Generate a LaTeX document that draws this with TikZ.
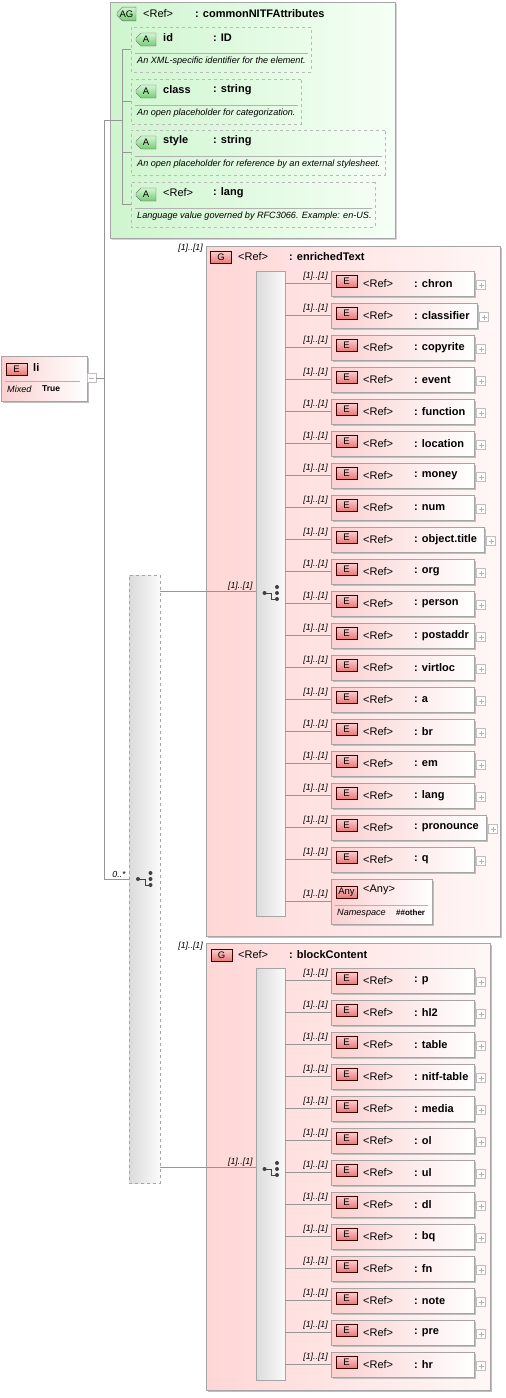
\documentclass[tikz,border=0pt]{standalone}
\usepackage{fontspec}
\setmainfont{Liberation Sans}
\usetikzlibrary{positioning,shapes.misc,shadows}

\definecolor{grpL}{RGB}{255,214,214}
\definecolor{grpR}{RGB}{255,247,247}
\definecolor{elL}{RGB}{251,208,208}
\definecolor{agL}{RGB}{206,245,206}
\definecolor{agR}{RGB}{246,255,246}
\definecolor{icoRt}{RGB}{250,205,205}
\definecolor{icoRb}{RGB}{232,118,118}
\definecolor{icoGt}{RGB}{210,246,210}
\definecolor{icoGb}{RGB}{118,204,118}
\definecolor{linegray}{RGB}{150,150,150}
\definecolor{boxgray}{RGB}{165,165,165}

\tikzset{
  shade box/.style={drop shadow={shadow xshift=1.5pt,shadow yshift=-1.5pt,fill=black!25,opacity=1}},
  conn/.style={draw=linegray, line width=0.6pt},
  sepline/.style={draw=gray!60, line width=0.6pt},
  elbox/.style={rectangle, draw=boxgray, left color=elL, right color=white,
    minimum height=25pt, inner sep=0pt, anchor=west, shade box},
  grpbox/.style={rectangle, draw=boxgray, left color=grpL, right color=grpR,
    inner sep=0pt, anchor=north west, shade box},
  agbox/.style={chamfered rectangle, chamfered rectangle corners={north west,south west},
    chamfered rectangle xsep=6pt, draw=boxgray, left color=agL, right color=agR,
    inner sep=0pt, shade box},
  attrbox/.style={chamfered rectangle, chamfered rectangle corners={north west,south west},
    chamfered rectangle xsep=5pt, draw=gray!55, dashed, line width=0.7pt,
    minimum height=45pt, inner sep=0pt, anchor=west},
  chcbox/.style={rectangle, draw=boxgray, left color=gray!28, right color=gray!4,
    inner sep=0pt, minimum width=29pt},
  eicon/.style={draw=red!25!black, top color=icoRt, bottom color=icoRb,
    minimum width=21pt, minimum height=12pt, inner sep=0pt, font=\fontsize{9.5}{10}\selectfont},
  aicon/.style={chamfered rectangle, chamfered rectangle corners={north west,south west},
    chamfered rectangle xsep=2pt, draw=black!60, top color=icoGt, bottom color=icoGb,
    minimum width=20pt, minimum height=13pt, inner sep=0pt, font=\fontsize{9.5}{10}\selectfont},
  reftxt/.style={anchor=west, inner sep=0pt, font=\fontsize{11}{12}\selectfont},
  nametxt/.style={anchor=west, inner sep=0pt, font=\bfseries\fontsize{11}{12}\selectfont},
  card/.style={inner sep=0pt, font=\itshape\fontsize{8.8}{10}\selectfont},
  desc/.style={anchor=west, inner sep=0pt, font=\itshape\fontsize{9.1}{10}\selectfont},
  plusbox/.style={draw=gray!50, fill=white, minimum size=9pt, inner sep=0pt, anchor=west,
    path picture={\draw[gray!60, line width=0.5pt]
      ([xshift=-2.5pt]path picture bounding box.center) -- ([xshift=2.5pt]path picture bounding box.center)
      ([yshift=-2.5pt]path picture bounding box.center) -- ([yshift=2.5pt]path picture bounding box.center);}},
  minusbox/.style={draw=gray!50, fill=white, minimum size=9pt, inner sep=0pt, anchor=west,
    path picture={\draw[gray!60, line width=0.5pt]
      ([xshift=-2.5pt]path picture bounding box.center) -- ([xshift=2.5pt]path picture bounding box.center);}},
  choicemark/.pic={
    \fill[black!75] (-7,0) circle (2pt);
    \draw[black!75, line width=1pt] (-7,0) -- (0,0) -- (0,6) -- (5.5,6);
    \fill[black!75] (5.5,-6) circle (2pt) (5.5,0) circle (2pt) (5.5,6) circle (2pt);
  }
}

\begin{document}
\begin{tikzpicture}[x=1pt, y=-1pt]
\useasboundingbox (0,0) rectangle (506,1398);

% attribute group
\node[agbox, minimum width=285pt, minimum height=236pt, anchor=north west] (ag) at (110,2) {};
\node[aicon, minimum width=19pt] (agicon) at (126.5,14) {AG};
\node[reftxt] at (143,13.5) {<Ref>};
\node[nametxt] at (195,13.5) {: commonNITFAttributes};

\foreach \nm/\ty/\w/\cy/\ds [count=\i] in {
    id/ID/180/49.5/An XML-specific identifier for the element.,
    class/string/170/101.5/An open placeholder for categorization.,
    style/string/254/152.5/An open placeholder for reference by an external stylesheet.,
    {\mdseries <Ref>}/lang/244/204.5/Language value governed by RFC3066. Example: en-US.}{
  \node[attrbox, minimum width=\w pt] (a\i) at (131,\cy) {};
  \node[aicon] (ai\i) at ([xshift=15pt,yshift=10pt]a\i.west) {A};
  \node[nametxt] at ([xshift=32pt,yshift=11.5pt]a\i.west) {\nm};
  \node[nametxt] at ([xshift=82pt,yshift=11.5pt]a\i.west) {: \ty};
  \draw[sepline] ([xshift=4pt,yshift=-3.5pt]a\i.west) -- ([xshift=-4pt,yshift=-3.5pt]a\i.east);
  \node[desc] at ([xshift=6pt,yshift=-11.5pt]a\i.west) {\ds};
}

% element li
\node[elbox, anchor=north west, minimum width=86pt, minimum height=45pt] (li) at (1,356) {};
\node[eicon] (liicon) at (16.5,369) {E};
\node[nametxt] at (33,368) {li};
\draw[sepline] ([xshift=4pt,yshift=-2.5pt]li.west) -- ([xshift=-7pt,yshift=-2.5pt]li.east);
\node[desc] at (7,389.5) {Mixed};
\node[nametxt, font=\bfseries\fontsize{8.5}{10}\selectfont] at (42,389) {True};
\node[minusbox] (liminus) at (87,378) {};

% trunk
\coordinate (trunktop) at (104,120);
\coordinate (agjoin) at (122,120);
\node[chcbox, dashed, minimum width=31pt, minimum height=608pt] (chc) at (144.5,879) {};
\pic at (145,879) {choicemark};

\draw[conn] (liminus.east) -- (liminus.east -| trunktop);
\draw[conn] (agjoin) -- (trunktop) -- (trunktop |- chc.west) -- (chc.west);
\node[card, anchor=south east] at ([xshift=-3pt,yshift=1.5pt]chc.west) {0..*};
\draw[conn] (agjoin |- a1.west) -- (agjoin |- a4.west);
\foreach \i in {1,...,4}
  \draw[conn] (agjoin |- a\i.west) -- (a\i.west);

% group enrichedText
\node[grpbox, minimum width=294pt, minimum height=690pt] (grp1) at (206,246) {};
\node[card, anchor=east] at ([xshift=-3pt,yshift=-2pt]grp1.north west) {[1]..[1]};
\node[eicon] (gi1) at (221,257.5) {G};
\node[reftxt] at (238,257) {<Ref>};
\node[nametxt] at (289,257) {: enrichedText};
\node[chcbox, minimum height=645pt] (ich1) at (270.5,593.5) {};
\pic at (271.5,593) {choicemark};
\draw[conn] ([yshift=2.5pt]ich1.west) -- ([yshift=2.5pt]ich1.west -| chc.east);
\node[card, anchor=south east] at ([xshift=-3pt,yshift=2.5pt]ich1.west) {[1]..[1]};

\foreach \nm/\w [count=\k] in {chron/143, classifier/146, copyrite/143, event/143,
    function/143, location/143, money/143, num/143, object.title/153, org/143,
    person/143, postaddr/143, virtloc/143, a/143, br/143, em/143, lang/143,
    pronounce/155, q/143}{
  \node[elbox, minimum width=\w pt] (e\k) at (331,{251.5+32*\k}) {};
  \node[eicon] (ei\k) at ([xshift=15.5pt,yshift=2pt]e\k.west) {E};
  \node[reftxt] at ([xshift=32pt]e\k.west) {<Ref>};
  \node[nametxt] at ([xshift=83pt]e\k.west) {: \nm};
  \node[plusbox] (ep\k) at ([xshift=2pt,yshift=-1.5pt]e\k.east) {};
  \draw[conn] (e\k.west) -- (e\k.west -| ich1.east);
  \node[card, anchor=south east] at ([xshift=-3pt,yshift=3pt]e\k.west) {[1]..[1]};
}

\node[elbox, anchor=north west, minimum width=101pt, minimum height=45pt] (anyel) at (331,879) {};
\node[eicon] (anyicon) at (346.5,892) {Any};
\node[reftxt] at (363,890) {<Any>};
\draw[sepline] ([xshift=4pt,yshift=-3.5pt]anyel.west) -- ([xshift=-4pt,yshift=-3.5pt]anyel.east);
\node[desc] at (337,913.5) {Namespace};
\node[nametxt, font=\bfseries\fontsize{8}{10}\selectfont] at (396,913) {\#\#other};
\draw[conn] (anyel.west) -- (anyel.west -| ich1.east);
\node[card, anchor=south east] at ([xshift=-3pt,yshift=3pt]anyel.west) {[1]..[1]};

% group blockContent
\node[grpbox, minimum width=284pt, minimum height=447pt] (grp2) at (206,943) {};
\node[card, anchor=east] at ([xshift=-3pt,yshift=-3pt]grp2.north west) {[1]..[1]};
\node[eicon] (gi2) at (221.5,955.5) {G};
\node[reftxt] at (238,954.5) {<Ref>};
\node[nametxt] at (289,954.5) {: blockContent};
\node[chcbox, minimum height=412pt] (ich2) at (270.5,1174) {};
\pic at (271.5,1169) {choicemark};
\draw[conn] ([yshift=7pt]ich2.west) -- ([yshift=7pt]ich2.west -| chc.east);
\node[card, anchor=south east] at ([xshift=-3pt,yshift=7pt]ich2.west) {[1]..[1]};

\foreach \nm [count=\k] in {p, hl2, table, nitf-table, media, ol, ul, dl, bq, fn,
    note, pre, hr}{
  \node[elbox, minimum width=143pt] (b\k) at (331,{948.5+32*\k}) {};
  \node[eicon] (bi\k) at ([xshift=15.5pt,yshift=2pt]b\k.west) {E};
  \node[reftxt] at ([xshift=32pt]b\k.west) {<Ref>};
  \node[nametxt] at ([xshift=83pt]b\k.west) {: \nm};
  \node[plusbox] (bp\k) at ([xshift=2pt,yshift=-1.5pt]b\k.east) {};
  \draw[conn] (b\k.west) -- (b\k.west -| ich2.east);
  \node[card, anchor=south east] at ([xshift=-3pt,yshift=3pt]b\k.west) {[1]..[1]};
}
\end{tikzpicture}
\end{document}
